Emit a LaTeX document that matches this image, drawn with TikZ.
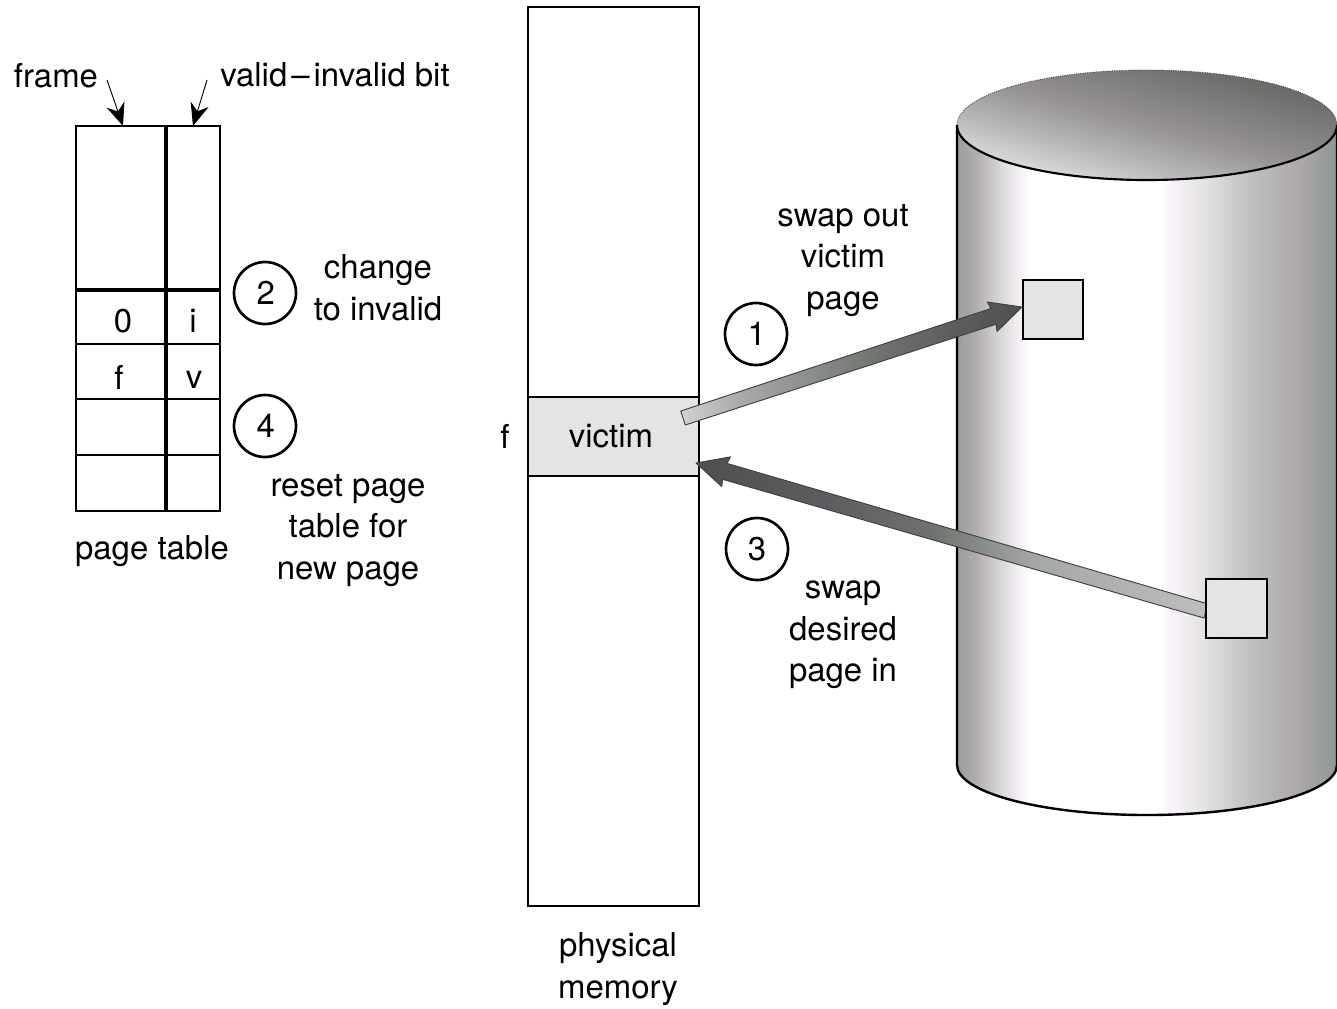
\documentclass[tikz,border=0pt]{standalone}
\usepackage{fontspec}
\setmainfont{TeX Gyre Heros}
\usetikzlibrary{calc,arrows.meta}
\definecolor{cA}{HTML}{9A9E9A}\definecolor{cB}{HTML}{B0ABB0}\definecolor{cC}{HTML}{D8D8D8}\definecolor{cD}{HTML}{FCF6FC}
\definecolor{cE}{HTML}{E6E4E6}\definecolor{cF}{HTML}{C0C0C0}\definecolor{cG}{HTML}{ABA6AB}\definecolor{cH}{HTML}{9AA09A}\definecolor{cI}{HTML}{90959A}
\definecolor{aA}{HTML}{D2D2D2}\definecolor{aB}{HTML}{A8A8A8}\definecolor{aC}{HTML}{8A8E8A}\definecolor{aD}{HTML}{6E736E}\definecolor{aE}{HTML}{5E5C60}\definecolor{aF}{HTML}{4E504E}\definecolor{aG}{HTML}{BDBDBD}\definecolor{aH}{HTML}{A4A8A6}
\definecolor{tA}{HTML}{E6E4E4}\definecolor{tB}{HTML}{B8B8B8}\definecolor{tC}{HTML}{969296}\definecolor{tD}{HTML}{7E7C7E}\definecolor{tE}{HTML}{64645F}
\definecolor{bandgray}{HTML}{E4E4E4}
\pgfdeclarehorizontalshading{cylbody}{100bp}{
 color(0bp)=(cA); color(25bp)=(cA); color(27.4bp)=(cB); color(30.7bp)=(cC); color(33.9bp)=(cD); color(34.8bp)=(white);
 color(51.7bp)=(white); color(52.4bp)=(cD); color(57bp)=(cE); color(63.6bp)=(cF); color(70.1bp)=(cG); color(72.8bp)=(cH); color(75bp)=(cI); color(100bp)=(cI)}
\pgfdeclarehorizontalshading{arrowup}{100bp}{
 color(0bp)=(aA); color(25bp)=(aA); color(34bp)=(aB); color(44bp)=(aC); color(54bp)=(aD); color(65bp)=(aE); color(75bp)=(aF); color(100bp)=(aF)}
\pgfdeclarehorizontalshading{arrowback}{100bp}{
 color(0bp)=(aF); color(25bp)=(aF); color(38bp)=(aE); color(48bp)=(aD); color(58bp)=(aH); color(75bp)=(aG); color(100bp)=(aG)}
\pgfdeclareverticalshading{cyltop}{100bp}{
 color(0bp)=(tA); color(25bp)=(tA); color(38bp)=(tB); color(50bp)=(tC); color(62bp)=(tD); color(75bp)=(tE); color(100bp)=(tE)}
\tikzset{
 x=0.75pt,y=-0.75pt,
 lbl/.style={inner sep=0pt,font=\fontsize{24.7}{31.2}\selectfont,align=center},
 num/.style={circle,draw,line width=2pt,minimum size=46.5pt,inner sep=0pt,font=\fontsize{24.7}{31.2}\selectfont},
 cellbox/.style={draw,line width=1.6pt,inner sep=0pt},
 heavy/.style={line width=2.6pt},
 pagebox/.style={draw,line width=2.1pt,fill=bandgray,inner sep=0pt},
 memline/.style={draw,line width=2pt,inner sep=0pt},
 pointer/.style={line width=0.7pt,-{Stealth[length=17pt,width=14pt]}},
 outline/.style={line width=1.8pt,line join=round},
}
\newcommand{\boxat}[6]{\node[#6,minimum width={(#4-(#2))*0.75pt},minimum height={(#5-(#3))*0.75pt}] (#1) at ({(#2+#4)/2},{(#3+#5)/2}) {};}
\newcommand{\fatarrow}[3]{%
 \coordinate (n) at ($(#2)!22.5pt!(#1)$);
 \coordinate (b) at ($(#2)!23.5pt!(#1)$);
 \shadedraw[shading=#3,draw=black!75,line width=0.7pt,line join=round]
  ($(#1)!5.5pt!90:(#2)$) -- ($(n)!6.2pt!90:(#2)$) -- ($(b)!11.6pt!90:(#2)$) -- (#2)
  -- ($(b)!11.6pt!-90:(#2)$) -- ($(n)!6.2pt!-90:(#2)$) -- ($(#1)!5.5pt!-90:(#2)$) -- cycle;
}
\begin{document}
\begin{tikzpicture}
\useasboundingbox (0,0) rectangle (1337,1008);
% disk
\shade[shading=cylbody] (957,125) -- (957,765) arc[start angle=180,end angle=0,x radius=190,y radius=50] -- (1337,125) -- cycle;
\draw[outline] (957,125) -- (957,765) arc[start angle=180,end angle=0,x radius=190,y radius=50] -- (1337,125);
\shade[shading=cyltop,shading angle=-15] (1147,125) circle[x radius=190,y radius=55];
\draw[line width=1.6pt] (957,125) arc[start angle=180,end angle=360,x radius=190,y radius=-55];
\draw[line width=0.7pt,black!70,densely dotted] (957,125) arc[start angle=180,end angle=0,x radius=190,y radius=-55];
% physical memory
\boxat{mem}{528}{7}{699}{906}{memline}
\boxat{victim}{528}{397}{699}{476}{pagebox}
\node[lbl] (victimtxt) at (611,436) {victim};
\node[lbl] (ftxt) at (505,436) {f};
\node[lbl] (phys) at (618,969) {physical\\memory};
% fat arrows and disk squares
\coordinate (out1) at (683,418);
\coordinate (in3) at (696,463);
\coordinate (tipa) at (1022,307);
\coordinate (tailb) at (1206,611);
\fatarrow{out1}{tipa}{arrowup}
\fatarrow{tailb}{in3}{arrowback}
\boxat{sqa}{1023}{280}{1083}{339}{pagebox}
\boxat{sqb}{1206}{579}{1267}{638}{pagebox}
% page table
\boxat{fa}{76}{126}{165}{289}{cellbox}
\boxat{va}{165}{126}{220}{289}{cellbox}
\boxat{fb}{76}{289}{165}{344}{cellbox}
\boxat{vb}{165}{289}{220}{344}{cellbox}
\boxat{fc}{76}{344}{165}{399}{cellbox}
\boxat{vc}{165}{344}{220}{399}{cellbox}
\boxat{fd}{76}{399}{165}{455}{cellbox}
\boxat{vd}{165}{399}{220}{455}{cellbox}
\boxat{fe}{76}{455}{165}{511}{cellbox}
\boxat{ve}{165}{455}{220}{511}{cellbox}
\draw[heavy] (fa.north east) -- (fe.south east);
\draw[heavy] (fa.south west) -- (va.south east);
\node[lbl] (zero) at (123,321) {0};
\node[lbl] (itxt) at (193,321) {i};
\node[lbl] (ftab) at (119,377) {f};
\node[lbl] (vtxt) at (194,380) {v};
\node[lbl] (frame) at (56,76) {frame};
\node[lbl] (bit) at (335,75) {valid\kern3pt–\kern3pt invalid bit};
\node[lbl] (ptab) at (152,551) {page table};
\coordinate (fs) at (107,80);
\coordinate (vs) at (207,80);
\coordinate (ft) at (123,126);
\coordinate (vt) at (193,126);
\draw[pointer] (fs) -- (ft);
\draw[pointer] (vs) -- (vt);
% steps
\node[num] (two) at (265,293) {\kern1pt 2};
\node[num] (four) at (265,426) {\kern1pt 4};
\node[num] (one) at (756,334) {\kern1pt 1};
\node[num] (three) at (757,549) {3};
\node[lbl] (chg) at (378,288) {change\\to invalid};
\node[lbl] (reset) at (348,530.5) {reset page\\table for\\new page};
\node[lbl] (so) at (843,260.5) {swap out\\victim\\page};
\node[lbl] (si) at (843,635) {swap\\desired\\page in};
\end{tikzpicture}
\end{document}
